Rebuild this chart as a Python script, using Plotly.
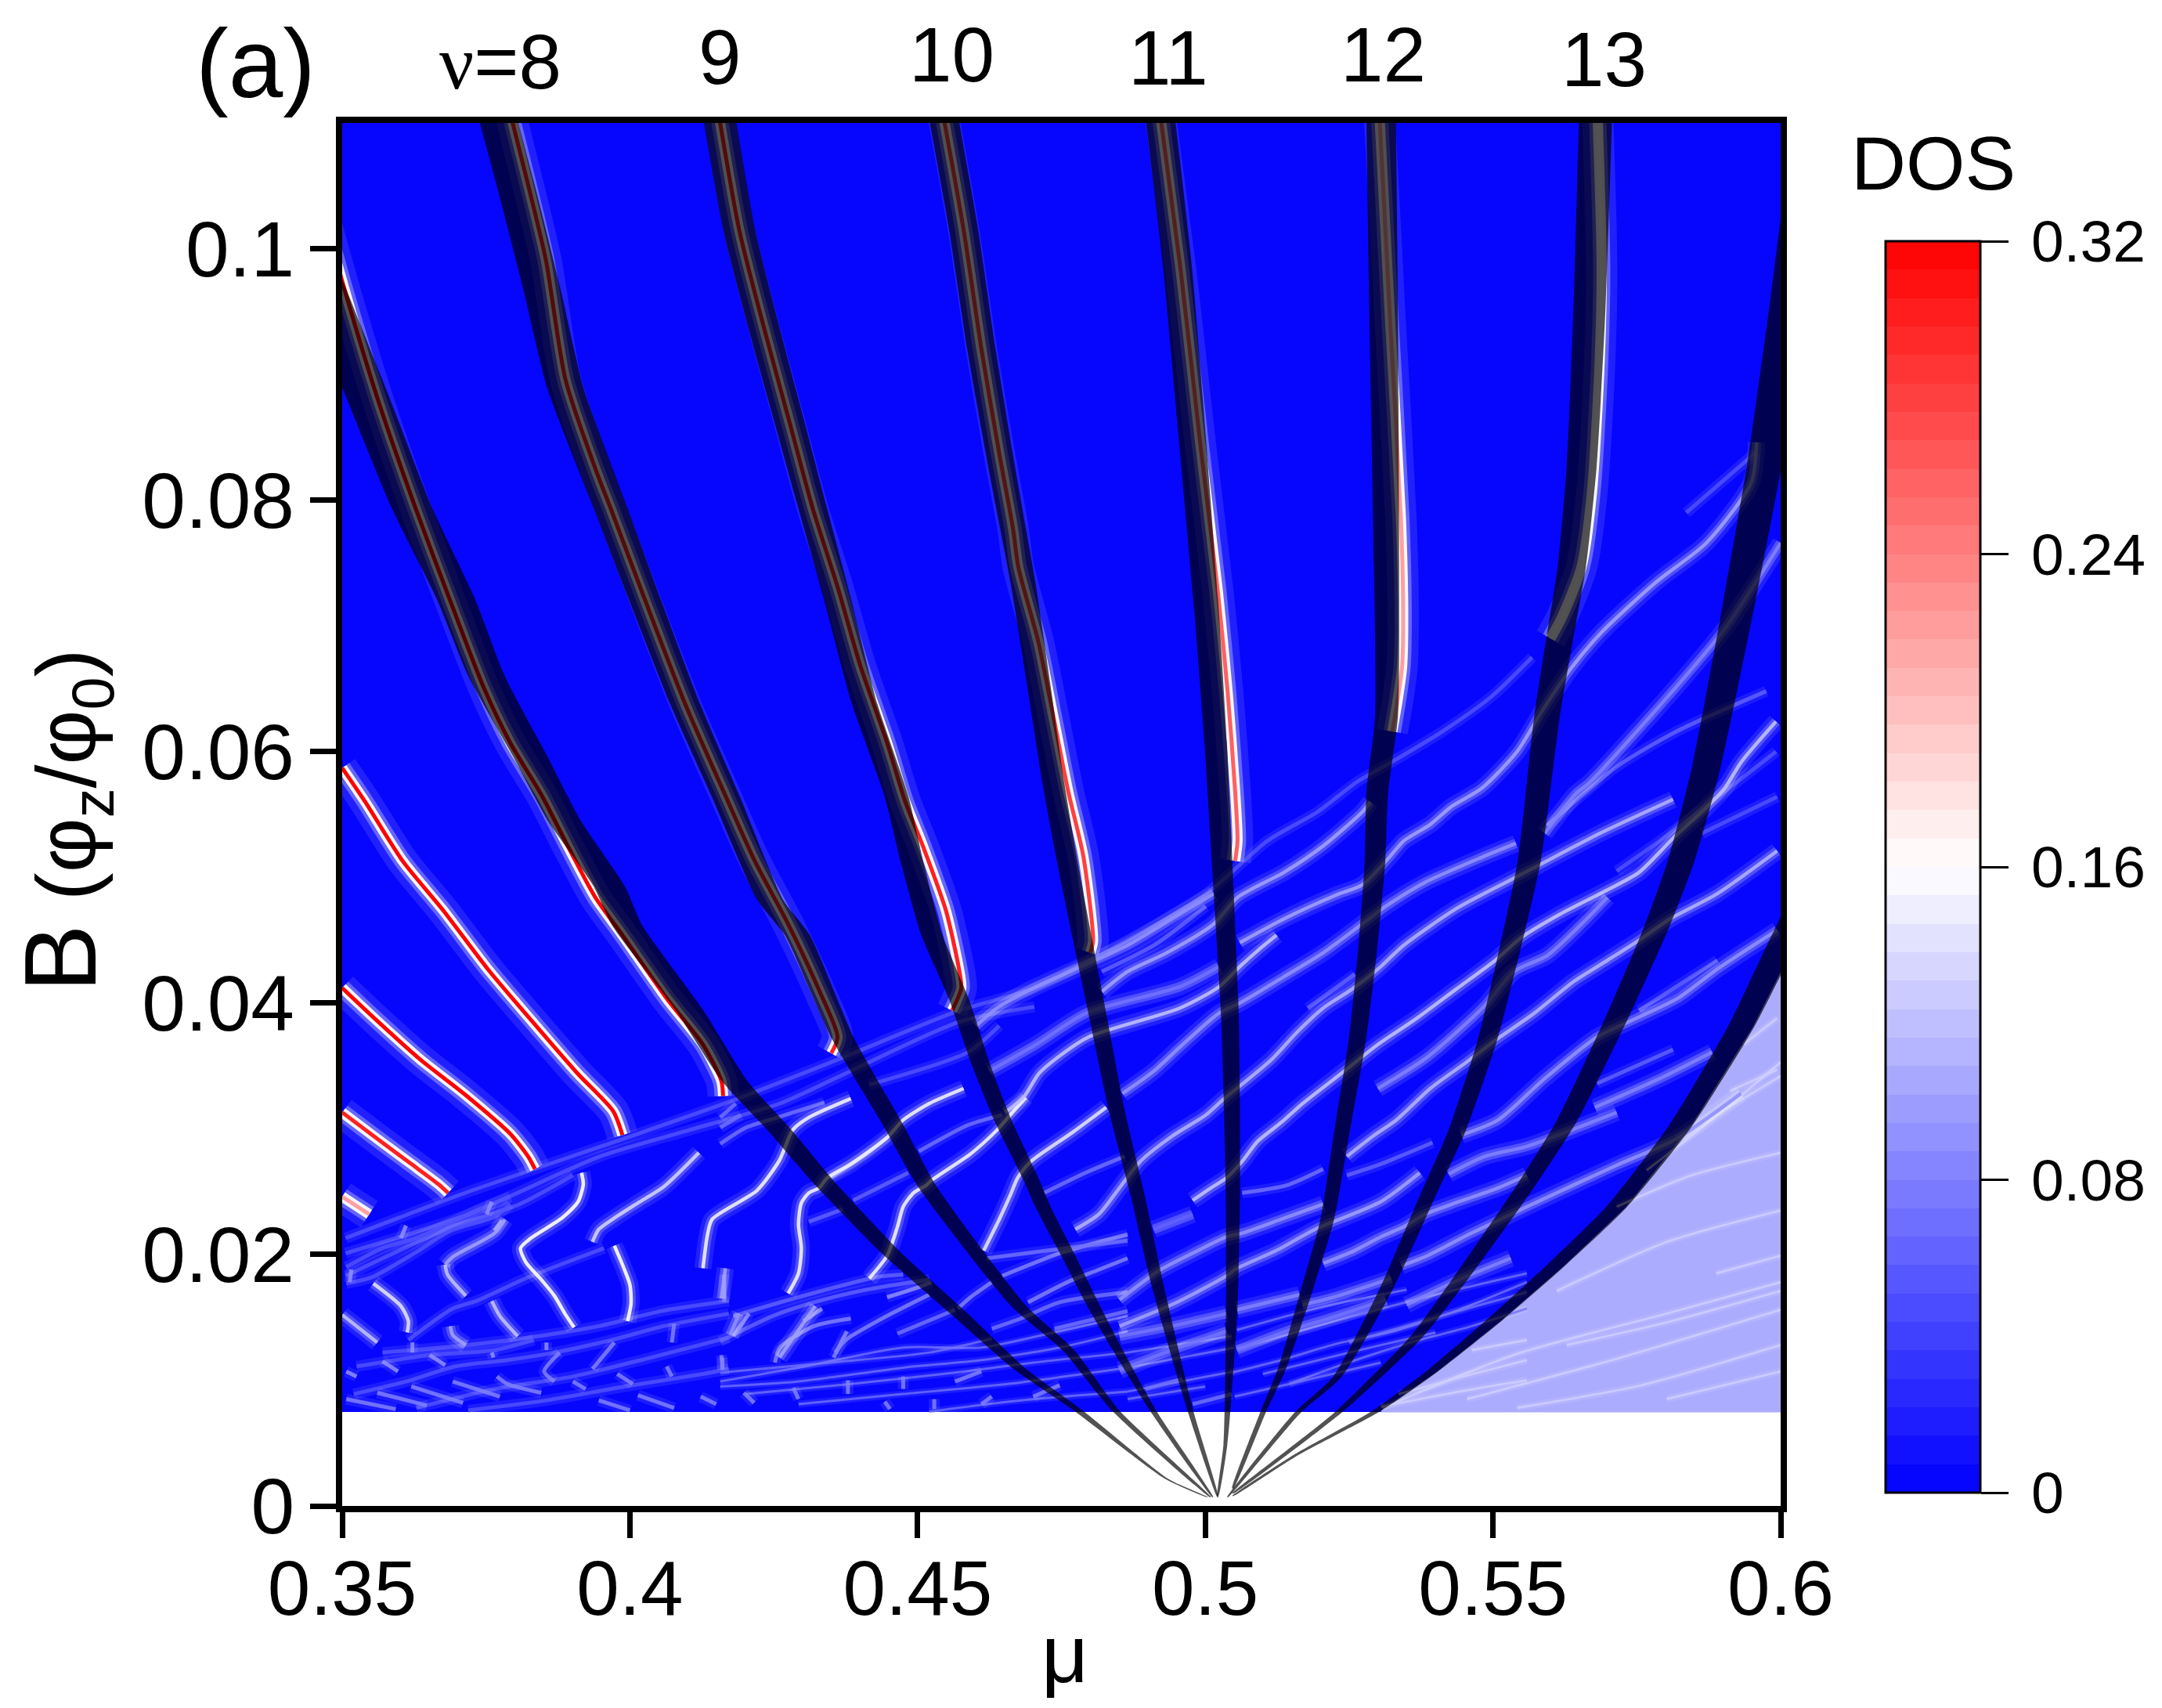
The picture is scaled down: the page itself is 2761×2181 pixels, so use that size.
import numpy as np
import plotly.graph_objects as go

# axes
mu_ticks = [0.35, 0.4, 0.45, 0.5, 0.55, 0.6]
mu_tick_text = ['0.35', '0.4', '0.45', '0.5', '0.55', '0.6']
b_ticks = [0, 0.02, 0.04, 0.06, 0.08, 0.1]
b_tick_text = ['0', '0.02', '0.04', '0.06', '0.08', '0.1']
dos_ticks = [0, 0.08, 0.16, 0.24, 0.32]
dos_tick_text = ['0', '0.08', '0.16', '0.24', '0.32']
dos_base = [[0]]
b_cut = 0.0075
pale_level = 0.108

nu_labels = ['<span style="font-family:Liberation Serif">ν</span>=8', '9', '10', '11', '12', '13']

# black fan bands, highest B first
fan_mu = [
    [.3440, .3546, .3622, .3698, .3751, .3827, .3886, .3964, .3995, .4104, .4182, .4260, .4338, .4455, .4572, .4675, .4779, .4935, .5004],
    [.3755, .3808, .3847, .3888, .3940, .3967, .4026, .4096, .4166, .4244, .4291, .4369, .4455, .4517, .4676, .4762, .4844, .5009],
    [.4146, .4190, .4236, .4278, .4318, .4361, .4408, .4463, .4490, .4525, .4572, .4611, .4650, .4697, .4718, .4762, .4805, .4848, .4909, .5013],
    [.4535, .4580, .4611, .4642, .4666, .4683, .4710, .4736, .4760, .4787, .4814, .4846, .4883, .4918, .4974, .5022],
    [.4915, .4952, .4978, .5003, .5018, .5026, .5034, .5043, .5046, .5048, .5046, .5035, .5022],
    [.5305, .5310, .5315, .5315, .5299, .5295, .5282, .5264, .5238, .5212, .5178, .5134, .5100, .5048],
    [.5680, .5667, .5654, .5637, .5615, .5594, .5563, .5529, .5490, .5438, .5386, .5316, .5230, .5160, .5039],
    [.6050, .6010, .5971, .5923, .5871, .5827, .5784, .5715, .5628, .5559, .5472, .5368, .5230, .5048],
    [.6100, .6000, .5931, .5827, .5715, .5611, .5498, .5394, .5299, .5152, .5048],
]
fan_b = [
    [.1000, .0880, .0793, .0721, .0660, .0596, .0545, .0493, .0462, .0394, .0338, .0299, .0257, .0201, .0153, .0110, .0076, .0021, .0007],
    [.1130, .1039, .0968, .0889, .0825, .0793, .0721, .0638, .0565, .0482, .0454, .0373, .0305, .0254, .0159, .0124, .0076, .0007],
    [.1130, .1015, .0932, .0861, .0793, .0721, .0638, .0565, .0513, .0454, .0403, .0350, .0305, .0260, .0238, .0199, .0160, .0124, .0076, .0007],
    [.1130, .1015, .0920, .0837, .0777, .0735, .0655, .0575, .0513, .0450, .0388, .0315, .0246, .0174, .0076, .0007],
    [.1130, .0984, .0846, .0707, .0608, .0540, .0471, .0388, .0326, .0250, .0157, .0049, .0008],
    [.1130, .0945, .0747, .0628, .0568, .0513, .0442, .0370, .0299, .0228, .0174, .0110, .0074, .0014],
    [.1130, .0945, .0826, .0747, .0687, .0628, .0513, .0442, .0370, .0299, .0246, .0174, .0103, .0074, .0007],
    [.1085, .0945, .0826, .0707, .0588, .0513, .0460, .0388, .0306, .0256, .0199, .0135, .0074, .0010],
    [.0538, .0445, .0381, .0303, .0238, .0192, .0146, .0107, .0076, .0039, .0008],
]
fan_scale = [1.55, 1.3, 1.1, 1.0, 1.0, 1.0, 1.12, 1.3, 1.5]
# half width of a band in mu, against B
width_b = [0, .005, .016, .03, .05, .09, .11]
width_mu = [.00005, .00034, .00102, .00136, .00177, .00245, .00258]

# strongest ridges (red core)
red_mu = [
    [.3500, .3547],
    [.3500, .3558, .3620, .3667, .3684],
    [.3500, .3558, .3636, .3714, .3792, .3823, .3835],
    [.3500, .3540, .3605, .3675, .3753, .3831, .3909, .3971, .3987],
    [.3460, .3507, .3562, .3628, .3691, .3745, .3792, .3847, .3893, .3940, .3987, .4065, .4127, .4159, .4162],
    [.3780, .3823, .3854, .3888, .3940, .3967, .4026, .4096, .4166, .4217, .4276, .4330, .4361, .4350],
    [.4146, .4190, .4236, .4278, .4318, .4361, .4400, .4447, .4478, .4510, .4549, .4572, .4576, .4560],
    [.4535, .4580, .4611, .4642, .4666, .4675, .4710, .4736, .4762, .4788, .4805, .4800],
    [.4915, .4957, .4991, .5022, .5039, .5052, .5056, .5052],
    [.5300, .5321, .5340, .5344, .5342, .5334, .5325],
    [.5680, .5689, .5685, .5672, .5654, .5620, .5600],
]
red_b = [
    [.0246, .0232],
    [.0313, .0293, .0272, .0256, .0249],
    [.0412, .0387, .0355, .0327, .0296, .0278, .0268],
    [.0587, .0560, .0513, .0474, .0427, .0385, .0344, .0314, .0295],
    [.1040, .0963, .0880, .0793, .0716, .0652, .0607, .0565, .0524, .0484, .0454, .0403, .0367, .0338, .0326],
    [.1130, .1051, .0991, .0896, .0825, .0793, .0721, .0638, .0565, .0513, .0462, .0409, .0373, .0360],
    [.1130, .1015, .0932, .0861, .0793, .0731, .0669, .0607, .0561, .0524, .0474, .0427, .0412, .0394],
    [.1130, .1015, .0920, .0837, .0777, .0747, .0687, .0628, .0568, .0517, .0449, .0440],
    [.1130, .0984, .0846, .0727, .0647, .0568, .0529, .0513],
    [.1130, .0945, .0786, .0707, .0667, .0640, .0616],
    [.1130, .0984, .0905, .0806, .0747, .0707, .0690],
]
red_peak = [.22, .30, .32, .32, .32, .30, .30, .28, .26, .22, .16]

# white streaks
bright_mu = [
    [.3916, .3919, .3910, .3882, .3828, .3810, .3819, .3846, .3869, .3887, .3903],
    [.3973, .3987, .4000, .4002, .3996],
    [.3935, .3946, .3973, .4014, .4059, .4120],
    [.4127, .4135, .4143, .4221, .4260, .4283, .4311, .4384],
    [.4275, .4293, .4298, .4293, .4298, .4311, .4329, .4343, .4384, .4447, .4475, .4520, .4580],
    [.4416, .4447, .4465, .4475, .4493, .4515, .4524, .4592, .4638, .4661, .4688],
    [.4615, .4642, .4661, .4674, .4697, .4769, .4828],
    [.4774, .4815, .4851, .4887, .4942, .5001, .5028, .5060, .5115, .5160, .5205, .5255, .5300, .5345, .5436, .5531, .5581, .5686, .5813],
    [.3554, .3602, .3615, .3613],
    [.3500, .3561],
    [.3679, .3683, .3715],
    [.3679, .3692, .3765, .3783],
    [.3760, .3774, .3805],
    [.3688, .3692, .3715],
    [.4166, .4159],
    [.4190, .4174],
    [.4322, .4260],
    [.4978, .5010, .5037, .5064, .5091, .5132, .5169, .5242, .5300, .5368, .5436, .5504, .5549, .5618, .5699, .5754, .5813, .5872, .5903, .5932, .5992],
    [.5246, .5291, .5332, .5391, .5454, .5500, .5572, .5640, .5699, .5754, .5808, .5890, .5994],
    [.5205, .5259, .5305, .5345, .5382, .5441, .5509, .5559],
    [.5341, .5386, .5454, .5504, .5559, .5715, .5819, .5931],
    [.4851, .4919, .4978, .5037, .5064, .5132, .5205],
    [.4851, .4946, .5037, .5055, .5123, .5191, .5305, .5373],
    [.4856, .4911, .4956, .5024, .5060, .5137, .5205, .5273, .5314, .5382, .5481, .5540],
    [.4652, .4684, .4711, .4747, .4797, .4956, .5024, .5060, .5092, .5124],
    [.4602, .4638, .4706, .4774, .4865, .4956, .5015],
    [.4820, .4865, .4933, .5015, .5056, .5137, .5205, .5273, .5287],
    [.4625, .4706, .4793, .4956, .5024],
    [.5060, .5137, .5228, .5273, .5318, .5345, .5391, .5427, .5481, .5542, .5585, .5637, .5689, .5784, .5871, .5949, .5958],
    [.5590, .5618, .5645, .5667, .5810, .5905, .6000],
    [.5055, .5141, .5214, .5314],
    [.5169, .5223, .5323],
    [.5055, .5164],
    [.5350, .5441, .5531],
    [.4851, .4942, .5037],
    [.4851, .4942, .5037],
    [.4910, .4978],
    [.5445, .5509, .5590, .5681, .5750, .5822, .5890, .5994],
    [.5677, .5790, .5881],
    [.5423, .5486, .5559, .5715],
    [.5300, .5386, .5486, .5536, .5595, .5663, .5699],
]
bright_b = [
    [.0265, .0256, .0242, .0229, .0213, .0205, .0194, .0180, .0167, .0153, .0142],
    [.0207, .0192, .0176, .0161, .0147],
    [.0210, .0220, .0229, .0241, .0254, .0281],
    [.0189, .0216, .0228, .0251, .0275, .0299, .0309, .0324],
    [.0169, .0185, .0205, .0224, .0241, .0249, .0253, .0261, .0272, .0293, .0307, .0320, .0332],
    [.0181, .0199, .0222, .0238, .0249, .0255, .0259, .0280, .0299, .0311, .0325],
    [.0203, .0228, .0247, .0261, .0274, .0297, .0317],
    [.0220, .0232, .0253, .0274, .0294, .0311, .0322, .0334, .0355, .0377, .0396, .0411, .0427, .0446, .0475, .0498, .0510, .0535, .0562],
    [.0177, .0159, .0147, .0138],
    [.0152, .0130],
    [.0192, .0184, .0167],
    [.0192, .0198, .0217, .0228],
    [.0163, .0151, .0135],
    [.0143, .0136, .0128],
    [.0189, .0165],
    [.0153, .0136],
    [.0159, .0118],
    [.0243, .0253, .0261, .0274, .0290, .0305, .0320, .0346, .0367, .0388, .0411, .0434, .0452, .0471, .0490, .0504, .0531, .0556, .0571, .0592, .0624],
    [.0278, .0294, .0307, .0332, .0353, .0369, .0392, .0417, .0434, .0450, .0467, .0487, .0521],
    [.0193, .0203, .0214, .0222, .0232, .0242, .0253, .0263],
    [.0191, .0199, .0215, .0226, .0238, .0271, .0292, .0328],
    [.0164, .0187, .0201, .0214, .0217, .0228, .0240],
    [.0143, .0161, .0183, .0189, .0203, .0220, .0242, .0265],
    [.0328, .0346, .0365, .0392, .0400, .0421, .0440, .0463, .0477, .0496, .0516, .0527],
    [.0313, .0325, .0344, .0358, .0373, .0396, .0413, .0429, .0442, .0454],
    [.0382, .0396, .0413, .0427, .0446, .0471, .0487],
    [.0409, .0425, .0440, .0463, .0484, .0504, .0525, .0552, .0560],
    [.0346, .0367, .0392, .0413, .0429],
    [.0448, .0467, .0486, .0494, .0515, .0529, .0542, .0556, .0571, .0600, .0632, .0667, .0695, .0735, .0766, .0814, .0846],
    [.0535, .0552, .0567, .0575, .0647, .0699, .0766],
    [.0124, .0139, .0149, .0164],
    [.0160, .0166, .0181],
    [.0156, .0168],
    [.0160, .0180, .0197],
    [.0135, .0143, .0153],
    [.0108, .0124, .0139],
    [.0220, .0232],
    [.0295, .0307, .0340, .0373, .0388, .0404, .0427, .0458],
    [.0317, .0340, .0361],
    [.0264, .0278, .0286, .0313],
    [.0332, .0357, .0398, .0425, .0438, .0467, .0484],
]
bright_peak = [.16, .16, .13, .15, .15, .15, .14, .11, .14, .12, .12, .10, .12, .10, .10, .09, .10,
               .12, .11, .09, .09, .09, .10, .09, .12, .09, .10, .07, .10, .08,
               .07, .08, .08, .08, .07, .07, .06, .09, .08, .08, .08]

# dim rising lines and small chevrons
dim_mu = [
    [.3506, .3714, .3995, .4182, .4361, .4572, .4703, .4996, .5108, .5195, .5264, .5325, .5412, .5498, .5568],
    [.3506, .3714, .3948, .4104, .4260, .4361, .4572, .4703],
    [.3506, .3691, .3808, .3901],
    [.3507, .3570, .3629, .3738, .3792],
    [.3507, .3552, .3629, .3688, .3765, .3792],
    [.3615, .3692, .3733, .3824, .3955],
    [.3570, .3719, .3855, .3946, .4055, .4172],
    [.3525, .3652, .3765, .3833],
    [.3520, .3611, .3697, .3787, .3869, .3968, .4059, .4172],
    [.3629, .3765, .3901, .4036, .4172],
    [.3719, .3855, .3991, .4127, .4172],
    [.3611, .3602], [.3760, .3751], [.3778, .3765], [.3516, .3513], [.3622, .3622],
    [.3570, .3597], [.3652, .3679], [.3507, .3525], [.3855, .3855], [.3760, .3763],
    [.4077, .4073], [.3973, .3935], [.3878, .3851, .3869], [.3692, .3774], [.3769, .3787, .3846],
    [.3620, .3710], [.3561, .3647], [.3507, .3593], [.3978, .4005], [.4064, .4073], [.4159, .4161],
    [.3901, .3923], [.3946, .4000], [.4014, .4077], [.4123, .4150], [.4377, .4354],
    [.4157, .4184], [.4157, .4193], [.4157, .4202, .4257, .4338], [.4348, .4411, .4447], [.4388, .4484],
    [.4311, .4370], [.4502, .4588, .4647], [.4720, .4792, .4860], [.4180, .4293, .4429, .4475],
    [.4157, .4248, .4320, .4411, .4520], [.4180, .4198, .4207], [.4252, .4261, .4320, .4384], [.4302, .4334],
    [.4357, .4375, .4438, .4520], [.4447, .4502, .4524], [.4570, .4592, .4629], [.4647, .4747, .4865],
    [.4620, .4724, .4865], [.4692, .4765, .4810, .4865], [.4465, .4565], [.4629, .4679, .4747, .4865], [.4738, .4865],
    [.4161, .4161], [.4198, .4216], [.4284, .4293], [.4379, .4379], [.4475, .4475], [.4529, .4529], [.4443, .4452],
    [.4164, .4164], [.4565, .4611], [.4611, .4629], [.4701, .4747],
    [.5064, .5141, .5205], [.5246, .5305, .5395], [.4896, .4960], [.4978, .5046],
    [.5754, .5890], [.5681, .5813], [.5863, .5994], [.5836, .5957], [.5178, .5260], [.4820, .4911, .5001],
    [.5594, .5715, .5819, .5975], [.5715, .5802, .5992], [.4416, .4588, .4642],
]
dim_b = [
    [.0213, .0249, .0293, .0323, .0355, .0394, .0412, .0485, .0529, .0552, .0576, .0592, .0616, .0644, .0675],
    [.0201, .0231, .0278, .0299, .0320, .0341, .0385, .0397],
    [.0183, .0222, .0240, .0263],
    [.0190, .0205, .0213, .0236, .0246],
    [.0177, .0182, .0202, .0219, .0230, .0240],
    [.0132, .0157, .0163, .0182, .0205],
    [.0122, .0128, .0136, .0143, .0155, .0163],
    [.0111, .0120, .0124, .0132],
    [.0089, .0099, .0111, .0116, .0122, .0132, .0143, .0153],
    [.0078, .0093, .0103, .0118, .0134],
    [.0076, .0084, .0095, .0105, .0109],
    [.0223, .0213], [.0242, .0232], [.0227, .0219], [.0188, .0178], [.0130, .0122],
    [.0115, .0107], [.0120, .0112], [.0107, .0103], [.0130, .0124], [.0122, .0118],
    [.0145, .0130], [.0130, .0109], [.0122, .0107, .0099], [.0099, .0087], [.0103, .0097, .0090],
    [.0095, .0082], [.0090, .0080], [.0085, .0077], [.0105, .0097], [.0111, .0103], [.0120, .0109],
    [.0099, .0093], [.0084, .0076], [.0088, .0078], [.0087, .0081], [.0139, .0118],
    [.0309, .0320], [.0301, .0311], [.0288, .0301, .0309, .0321], [.0261, .0280, .0293], [.0243, .0265],
    [.0226, .0236], [.0282, .0303, .0311], [.0249, .0265, .0278], [.0151, .0166, .0182, .0184],
    [.0131, .0151, .0162, .0172, .0180], [.0135, .0147, .0153], [.0114, .0126, .0143, .0149], [.0147, .0157],
    [.0122, .0132, .0149, .0168], [.0166, .0174, .0178], [.0157, .0166, .0178], [.0183, .0201, .0216],
    [.0197, .0203, .0211], [.0162, .0179, .0187, .0197], [.0137, .0156], [.0141, .0149, .0162, .0170], [.0141, .0155],
    [.0118, .0108], [.0090, .0082], [.0094, .0085], [.0100, .0089], [.0103, .0093], [.0085, .0077], [.0083, .0077],
    [.0184, .0162], [.0099, .0107], [.0081, .0087], [.0087, .0096],
    [.0249, .0255, .0268], [.0263, .0272, .0289], [.0093, .0101], [.0081, .0089],
    [.0394, .0434], [.0336, .0363], [.0535, .0564], [.0790, .0838], [.0396, .0423], [.0425, .0446, .0477],
    [.0541, .0588, .0616, .0648], [.0505, .0533, .0600], [.0335, .0361, .0382],
]
dim_peak = [.05] * 11 + [.09] * 10 + [.08] * 16 \
    + [.07, .07, .07, .09, .06, .06, .07, .07, .06] \
    + [.06, .09, .08, .09, .08, .09, .08, .08, .07, .08, .07, .07, .07] \
    + [.08] * 11 \
    + [.07, .06, .07, .07, .06, .06, .05, .05, .06, .06, .06, .05, .05]

# thin lines in the crowded part near the cut and in the pale part
fine_mu = [
    [.4157, .4293, .4475, .4611, .4747, .4865], [.4157, .4348, .4520, .4629],
    [.4157, .4293, .4475, .4611, .4747, .4865], [.4202, .4384, .4565, .4701, .4865],
    [.4293, .4475, .4656, .4865], [.4520, .4679, .4865],
    [.5046, .5132, .5228, .5327, .5441, .5559], [.5146, .5223, .5350, .5463, .5559], [.5051, .5146, .5305],
    [.4865, .5046], [.4865, .5051], [.4865, .5050], [.4865, .5000],
    [.5055, .5250, .5400, .5559], [.5250, .5400, .5559], [.5055, .5200, .5350], [.5100, .5250, .5400],
    [.5308, .5542, .5802, .6000], [.5455, .5715, .6000], [.5611, .5802, .6000], [.5715, .5845, .6000],
    [.5767, .5888, .6000], [.5819, .6000], [.5628, .5802, .6000], [.5802, .6000], [.5542, .5758, .6000],
    [.5888, .6000], [.5336, .5432, .5559], [.5305, .5441, .5559], [.5463, .5559], [.5912, .5994], [.5935, .5994],
]
fine_b = [
    [.0099, .0110, .0126, .0126, .0139, .0151], [.0106, .0114, .0122, .0133],
    [.0095, .0099, .0110, .0116, .0126, .0139], [.0089, .0097, .0106, .0114, .0122],
    [.0081, .0089, .0097, .0110], [.0075, .0084, .0091],
    [.0106, .0116, .0129, .0139, .0156, .0178], [.0097, .0110, .0129, .0143, .0157], [.0087, .0097, .0114],
    [.0122, .0135], [.0110, .0126], [.0091, .0107], [.0085, .0095],
    [.0125, .0150, .0168, .0185], [.0130, .0150, .0170], [.0140, .0158, .0172], [.0105, .0122, .0138],
    [.0078, .0121, .0153, .0178], [.0085, .0117, .0156], [.0171, .0210, .0235], [.0238, .0263, .0281],
    [.0267, .0310, .0353], [.0292, .0342], [.0128, .0146, .0171], [.0085, .0107], [.0078, .0096, .0128],
    [.0185, .0199], [.0089, .0101, .0116], [.0079, .0091, .0100], [.0124, .0132], [.0330, .0347], [.0367, .0388],
]
fine_peak = [.07] * 17 + [.13] * 15

assert len(red_mu) == len(red_b) == len(red_peak)
assert len(bright_mu) == len(bright_b) == len(bright_peak)
assert len(dim_mu) == len(dim_b) == len(dim_peak)
assert len(fine_mu) == len(fine_b) == len(fine_peak)


def rgb_of(v, alpha=1.0):
    if v <= 0.16:
        c = int(round(255 * v / 0.16))
        return f'rgba({c},{c},255,{alpha})'
    c = int(round(255 * (1 - (v - 0.16) / 0.16)))
    return f'rgba(255,{c},{c},{alpha})'


def add_line(fig, mu, b, color, width):
    fig.add_trace(go.Scatter(x=mu, y=b, mode='lines', hoverinfo='skip', showlegend=False,
                             line=dict(color=color, width=width, shape='spline', smoothing=0.7)))


def half_width(b, scale):
    return np.interp(b, width_b, width_mu) * scale


# stepped colour scale as in the colour bar
n_steps = 44
colorscale = []
for i in range(n_steps):
    col = rgb_of(0.32 * (i + 0.5) / n_steps)
    colorscale.append([i / n_steps, col])
    colorscale.append([(i + 1) / n_steps, col])

# plot area in pixels
W, H = 2761, 2181
L, R, T, B = 437, 2274, 157, 1923


def px(x):
    return (x - L) / (R - L)


def py(y):
    return (B - y) / (B - T)


fig = go.Figure()
fig.add_trace(go.Heatmap(
    z=dos_base, x=[0.35, 0.6], y=[b_cut, 0.11], zmin=0, zmax=0.32, colorscale=colorscale,
    hoverinfo='skip',
    colorbar=dict(
        x=px(2408), xanchor='left', xpad=0, y=py(308), yanchor='top', ypad=0,
        thickness=121, thicknessmode='pixels', len=1598, lenmode='pixels',
        outlinecolor='black', outlinewidth=3, ticks='outside', ticklen=35, tickwidth=3,
        tickcolor='black', tickmode='array', tickvals=dos_ticks,
        ticktext=['<span style="font-size:50px">&nbsp;</span>' + t for t in dos_tick_text],
        tickfont=dict(family='Liberation Sans', size=75, color='black'),
    ),
))

# pale part right of the last band
edge_b = np.array(fan_b[8])
edge_mu = np.array(fan_mu[8]) + half_width(edge_b, fan_scale[8]) * 0.9
keep = edge_b >= b_cut
low = b_cut - 0.00005
fig.add_trace(go.Scatter(
    x=list(edge_mu[keep]) + [edge_mu[keep][-1], 0.62, 0.62],
    y=list(edge_b[keep]) + [low, low, edge_b[0]],
    mode='lines', fill='toself', fillcolor=rgb_of(pale_level), line=dict(width=0),
    hoverinfo='skip', showlegend=False))

for mu, b, peak in zip(fine_mu, fine_b, fine_peak):
    add_line(fig, mu, b, 'rgba(255,255,255,0.09)', 9)
    add_line(fig, mu, b, rgb_of(peak, 0.8), 3)

for mu, b, peak in zip(dim_mu, dim_b, dim_peak):
    add_line(fig, mu, b, 'rgba(255,255,255,0.09)', 14)
    add_line(fig, mu, b, rgb_of(peak, 0.85), 5)

for mu, b, peak in zip(bright_mu, bright_b, bright_peak):
    add_line(fig, mu, b, 'rgba(255,255,255,0.10)', 22)
    add_line(fig, mu, b, 'rgba(255,255,255,0.22)', 12)
    add_line(fig, mu, b, rgb_of(peak, 0.9), 4.5)

for mu, b, peak in zip(red_mu, red_b, red_peak):
    add_line(fig, mu, b, 'rgba(110,110,255,0.25)', 40)
    add_line(fig, mu, b, 'rgba(170,170,255,0.5)', 22)
    add_line(fig, mu, b, 'rgba(255,255,255,0.95)', 13)
    add_line(fig, mu, b, rgb_of(peak), 5)

# fan bands go on top, so the ridges show through them
for mu, b, scale in zip(fan_mu, fan_b, fan_scale):
    mu = np.array(mu)
    b = np.array(b)
    half = half_width(b, scale)
    fig.add_trace(go.Scatter(
        x=np.r_[mu - half, (mu + half)[::-1]], y=np.r_[b, b[::-1]],
        mode='lines', fill='toself', fillcolor='rgba(0,0,0,0.68)',
        line=dict(width=0, shape='spline', smoothing=0.6),
        hoverinfo='skip', showlegend=False))

font = 'Liberation Sans'
fig.update_xaxes(range=[0.35, 0.6], tickmode='array', tickvals=mu_ticks, ticktext=mu_tick_text,
                 ticks='outside', ticklen=33, tickwidth=7, tickcolor='black', showgrid=False, zeroline=False,
                 showline=True, linewidth=8, linecolor='black', mirror=True, ticklabelstandoff=-20,
                 tickfont=dict(family=font, size=98, color='black'))
fig.update_yaxes(range=[0, 0.11], tickmode='array', tickvals=b_ticks, ticktext=b_tick_text,
                 ticks='outside', ticklen=33, tickwidth=7, tickcolor='black', showgrid=False, zeroline=False,
                 showline=True, linewidth=8, linecolor='black', mirror=True, ticklabelstandoff=0,
                 tickfont=dict(family=font, size=100, color='black'))


def label(text, x, y, size, angle=0):
    fig.add_annotation(text=text, x=px(x), y=py(y), xref='paper', yref='paper', showarrow=False,
                       xanchor='center', yanchor='middle', textangle=angle,
                       font=dict(family=font, size=size, color='black'))


label('(a)', 326, 80, 125)
nu_x = [639, 919, 1215, 1492, 1766, 2048]
nu_y = [79, 73, 70, 74, 70, 76]
for t, x, y in zip(nu_labels, nu_x, nu_y):
    label(t, x, y, 98)
label('μ', 1360, 2112, 104)
label('DOS', 2469, 209, 97)
label('<span style="font-size:130px">B</span> (φ<sub>z</sub>/φ<sub>0</sub>)', 82, 1048, 108, -90)

fig.update_layout(width=W, height=H, margin=dict(l=L, r=W - R, t=T, b=H - B, autoexpand=False),
                  paper_bgcolor='white', plot_bgcolor='white', showlegend=False)

fig.write_html("out.html", config={'displayModeBar': False},
               post_script="document.body.style.margin='0';")
